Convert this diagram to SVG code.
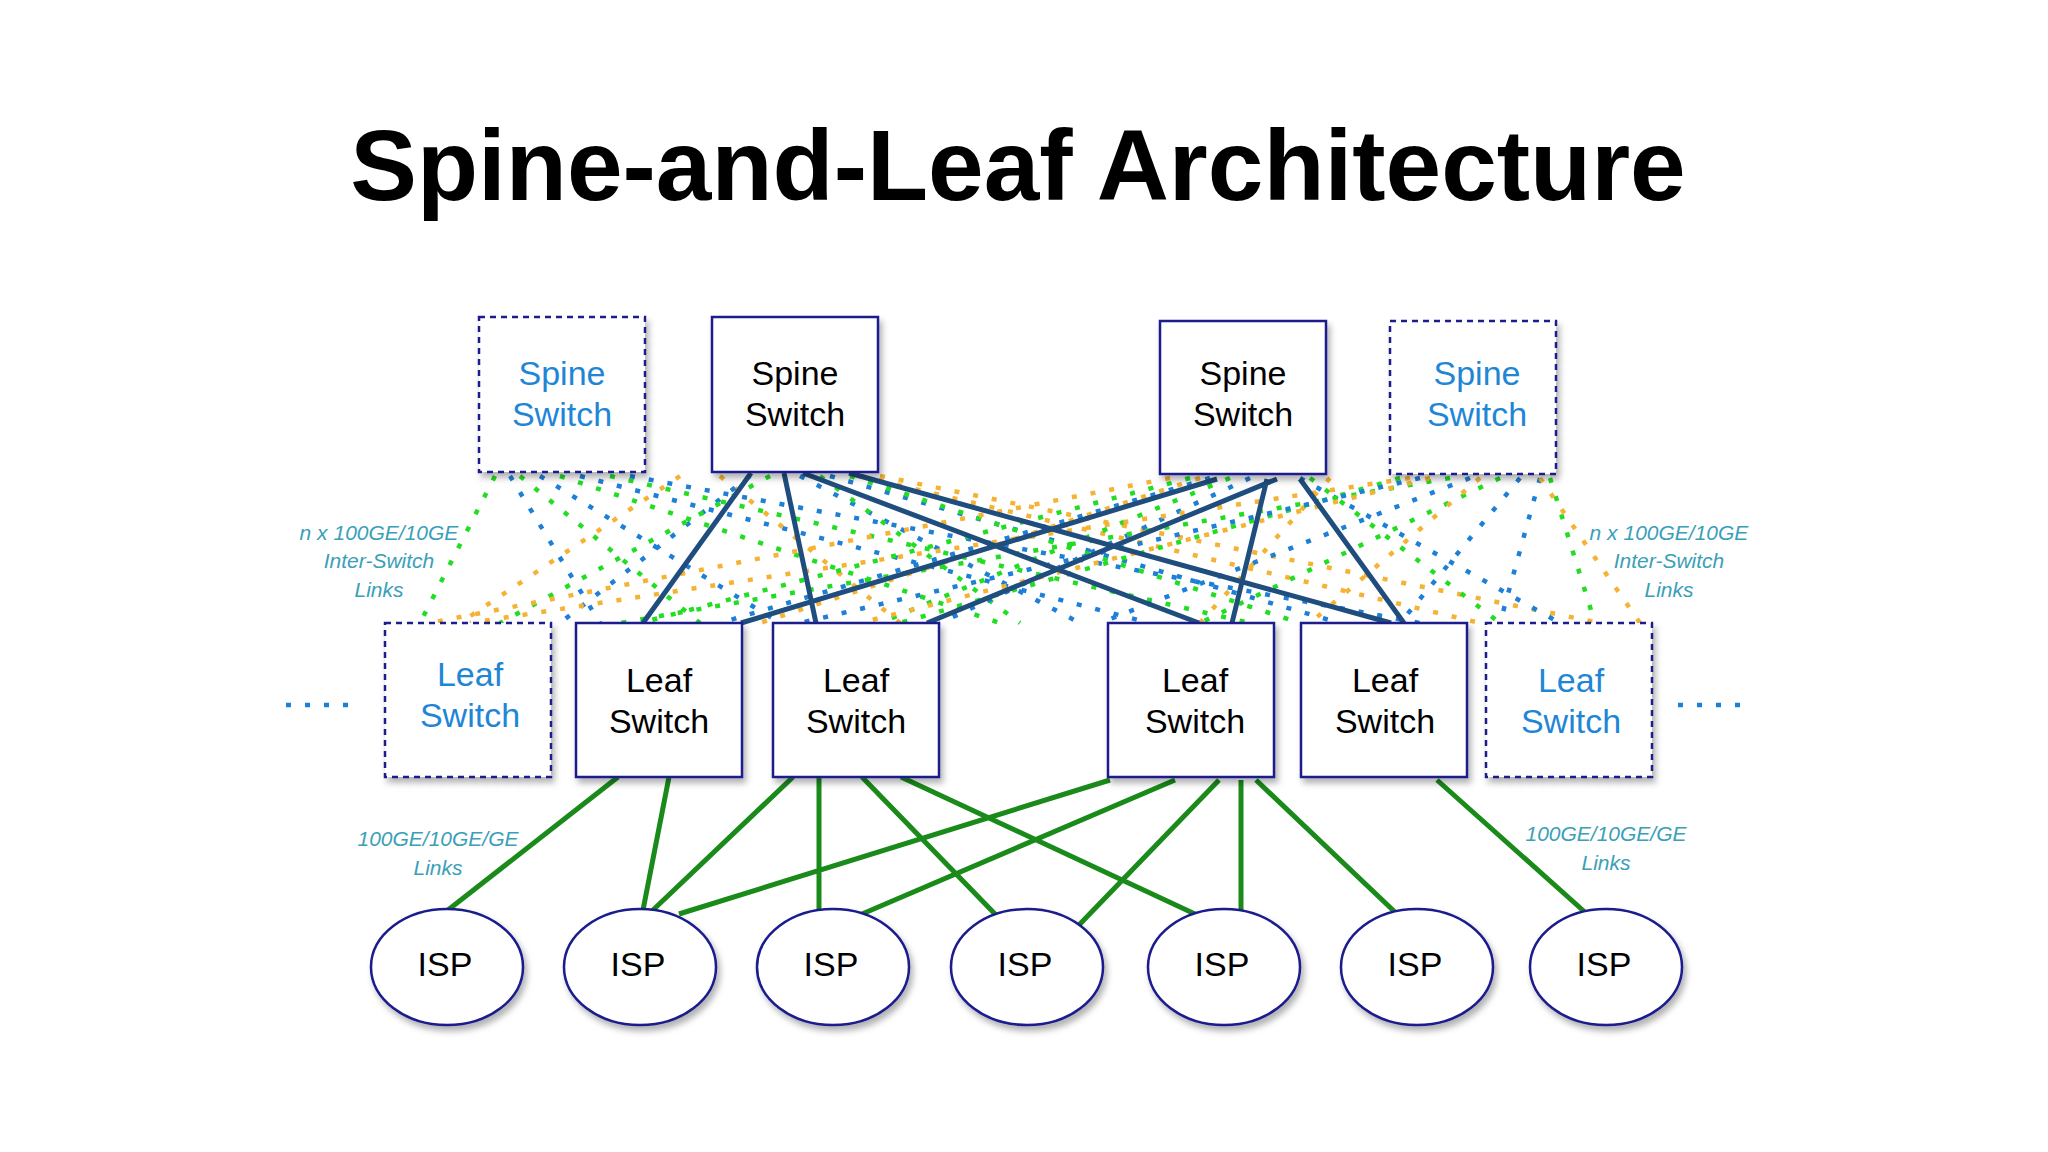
<svg xmlns="http://www.w3.org/2000/svg" width="2048" height="1152" viewBox="0 0 2048 1152">
<defs>
<filter id="sh" x="-20%" y="-20%" width="140%" height="140%"><feDropShadow dx="3" dy="5" stdDeviation="3" flood-color="#000" flood-opacity="0.3"/></filter>
</defs>
<style>
.box{fill:#fff;stroke:#1a1a8c;stroke-width:2.5;filter:url(#sh)}
.dbox{fill:#fff;stroke:#1a1a8c;stroke-width:2.5;stroke-dasharray:6 5;filter:url(#sh)}
.t{font-family:"Liberation Sans",Arial,sans-serif;font-size:34px;text-anchor:middle;fill:#000}
.tb{fill:#1f86d6}
.lab{font-family:"Liberation Sans",Arial,sans-serif;font-style:italic;font-size:21px;text-anchor:middle;fill:#3aa0b8}
.s{stroke:#1f4e7e;stroke-width:5;fill:none}
.g{stroke:#1a8a1a;stroke-width:5;fill:none}
.dg{stroke:#22dd22;stroke-width:4.5;stroke-dasharray:5 14;fill:none}
.do{stroke:#f5b335;stroke-width:4.5;stroke-dasharray:5 14;fill:none}
.db{stroke:#1e7fd6;stroke-width:4.5;stroke-dasharray:5 14;fill:none}
.el{fill:#fff;stroke:#1a1a8c;stroke-width:2.5;filter:url(#sh)}
</style>
<rect width="2048" height="1152" fill="#fff"/>
<text x="1018" y="200" font-family="Liberation Sans,Arial,sans-serif" font-weight="bold" font-size="100" text-anchor="middle">Spine-and-Leaf Architecture</text>
<g id="connectors">
<path class="dg" d="M495 476L420 623M520 476L700 623M560 476L1000 623M610 476L1250 623"/>
<path class="db" d="M510 476L600 623M540 476L780 623M580 476L1150 623M630 476L1420 623"/>
<path class="do" d="M680 476L460 623M720 476L900 623M860 476L1480 623M880 476L1600 623"/>
<path class="db" d="M750 476L560 623M800 476L1080 623M830 476L1340 623"/>
<path class="dg" d="M770 476L500 623M820 476L1020 623M850 476L1300 623"/>
<path class="do" d="M1170 478L430 623M1200 478L760 623M1330 478L1200 623"/>
<path class="dg" d="M1190 478L640 623M1230 478L880 623M1310 478L1500 623"/>
<path class="db" d="M1210 478L720 623M1250 478L940 623M1300 478L1560 623"/>
<path class="dg" d="M1400 478L900 623M1450 478L620 623M1500 478L1200 623M1550 478L1595 623"/>
<path class="db" d="M1420 478L800 623M1470 478L1100 623M1520 478L1400 623M1540 478L1500 623"/>
<path class="do" d="M1410 478L470 623M1430 478L860 623M1480 478L1310 623M1540 478L1640 623"/>
<path class="s" d="M751 473L643 623M784 473L816 623M803 473L1199 623M849 473L1391 623M1217 479L741 623M1277 479L927 623M1267 479L1232 623M1300 479L1404 623"/>
<path class="g" d="M618 777L448 910M669 777L643 910M793 777L653 910M819 777L819 910M862 777L995 914M901 777L1195 914M1110 780L679 914M1175 780L862 914M1219 780L1079 925M1241 780L1241 910M1256 780L1397 914M1437 780L1587 914"/>
<path class="db" d="M286 705H350M1678 705H1742"/>
</g>
<g id="spine1"><rect class="dbox" x="479" y="317" width="166" height="155"/><text class="t tb" x="562" y="385">Spine</text><text class="t tb" x="562" y="426">Switch</text></g>
<g id="spine2"><rect class="box" x="712" y="317" width="166" height="155"/><text class="t" x="795" y="385">Spine</text><text class="t" x="795" y="426">Switch</text></g>
<g id="spine3"><rect class="box" x="1160" y="321" width="166" height="153"/><text class="t" x="1243" y="385">Spine</text><text class="t" x="1243" y="426">Switch</text></g>
<g id="spine4"><rect class="dbox" x="1390" y="321" width="166" height="153"/><text class="t tb" x="1477" y="385">Spine</text><text class="t tb" x="1477" y="426">Switch</text></g>
<g id="leaf1"><rect class="dbox" x="385" y="623" width="166" height="154"/><text class="t tb" x="470" y="686">Leaf</text><text class="t tb" x="470" y="727">Switch</text></g>
<g id="leaf2"><rect class="box" x="576" y="623" width="166" height="154"/><text class="t" x="659" y="692">Leaf</text><text class="t" x="659" y="733">Switch</text></g>
<g id="leaf3"><rect class="box" x="773" y="623" width="166" height="154"/><text class="t" x="856" y="692">Leaf</text><text class="t" x="856" y="733">Switch</text></g>
<g id="leaf4"><rect class="box" x="1108" y="623" width="166" height="154"/><text class="t" x="1195" y="692">Leaf</text><text class="t" x="1195" y="733">Switch</text></g>
<g id="leaf5"><rect class="box" x="1301" y="623" width="166" height="154"/><text class="t" x="1385" y="692">Leaf</text><text class="t" x="1385" y="733">Switch</text></g>
<g id="leaf6"><rect class="dbox" x="1486" y="623" width="166" height="154"/><text class="t tb" x="1571" y="692">Leaf</text><text class="t tb" x="1571" y="733">Switch</text></g>
<g id="isp1"><ellipse class="el" cx="447" cy="967" rx="76" ry="58"/><text class="t" x="445" y="976">ISP</text></g>
<g id="isp2"><ellipse class="el" cx="640" cy="967" rx="76" ry="58"/><text class="t" x="638" y="976">ISP</text></g>
<g id="isp3"><ellipse class="el" cx="833" cy="967" rx="76" ry="58"/><text class="t" x="831" y="976">ISP</text></g>
<g id="isp4"><ellipse class="el" cx="1027" cy="967" rx="76" ry="58"/><text class="t" x="1025" y="976">ISP</text></g>
<g id="isp5"><ellipse class="el" cx="1224" cy="967" rx="76" ry="58"/><text class="t" x="1222" y="976">ISP</text></g>
<g id="isp6"><ellipse class="el" cx="1417" cy="967" rx="76" ry="58"/><text class="t" x="1415" y="976">ISP</text></g>
<g id="isp7"><ellipse class="el" cx="1606" cy="967" rx="76" ry="58"/><text class="t" x="1604" y="976">ISP</text></g>
<g id="labels">
<text class="lab" x="379" y="540">n x 100GE/10GE</text><text class="lab" x="379" y="568">Inter-Switch</text><text class="lab" x="379" y="597">Links</text>
<text class="lab" x="1669" y="540">n x 100GE/10GE</text><text class="lab" x="1669" y="568">Inter-Switch</text><text class="lab" x="1669" y="597">Links</text>
<text class="lab" x="438" y="846">100GE/10GE/GE</text><text class="lab" x="438" y="875">Links</text>
<text class="lab" x="1606" y="841">100GE/10GE/GE</text><text class="lab" x="1606" y="870">Links</text>
</g>
</svg>
